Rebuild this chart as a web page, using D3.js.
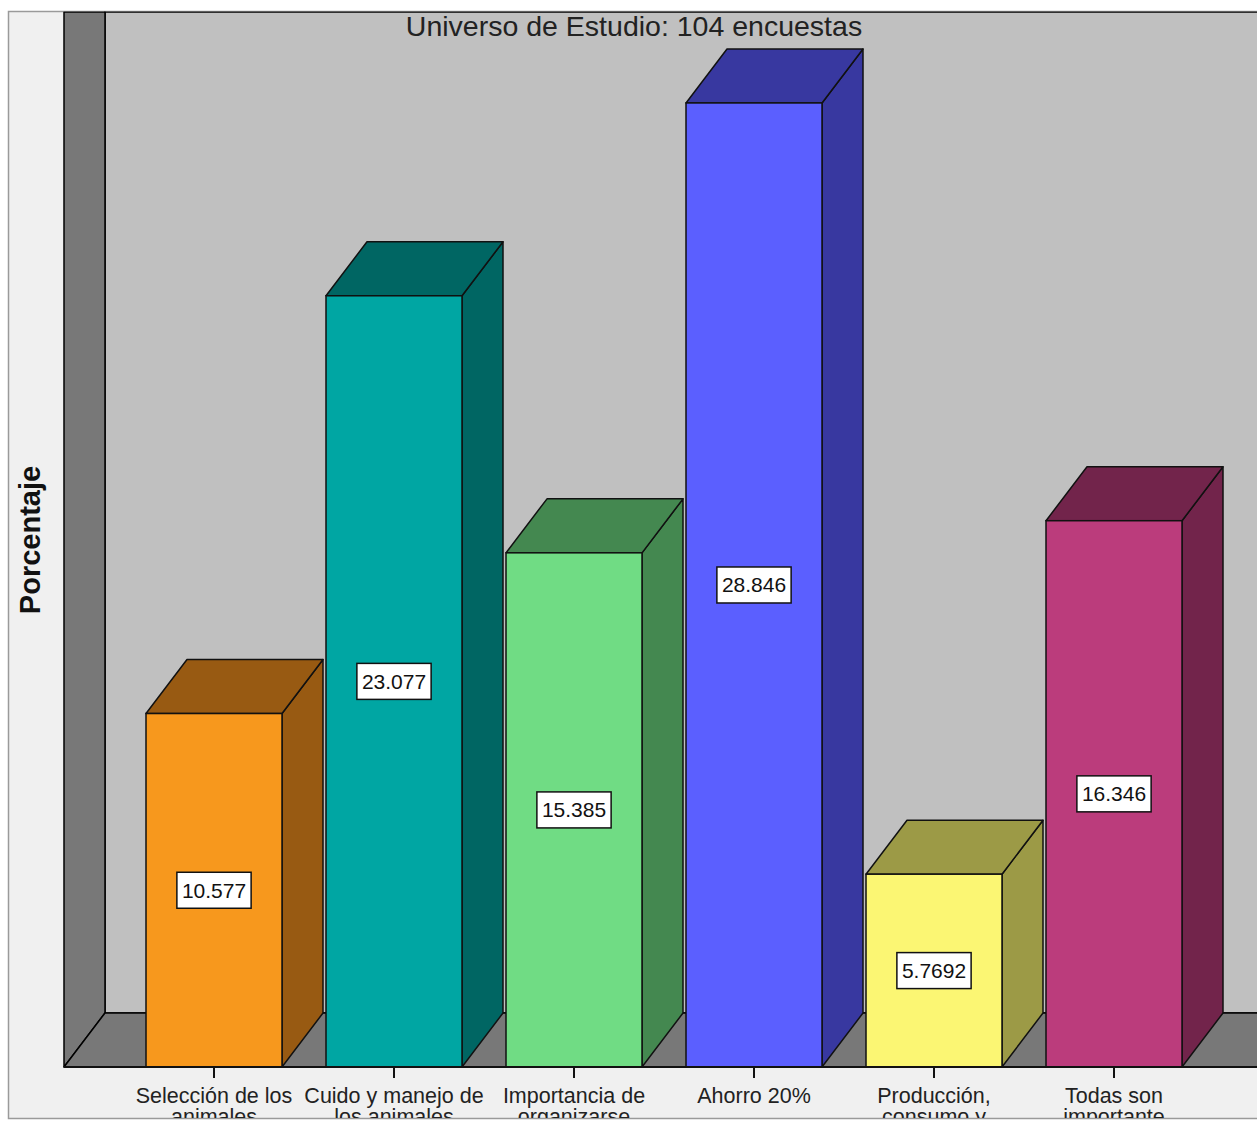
<!DOCTYPE html>
<html>
<head>
<meta charset="utf-8">
<script src="https://cdn.jsdelivr.net/npm/d3@7"></script>
<style>
  html, body { margin: 0; padding: 0; background: #ffffff; }
  svg { display: block; }
  text { font-family: "Liberation Sans", Arial, sans-serif; }
</style>
</head>
<body>
<svg id="chart" width="1257" height="1121"></svg>
<script>
// ---- data ----
const categories = [
  "Selección de los animales",
  "Cuido y manejo de los animales",
  "Importancia de organizarse",
  "Ahorro 20%",
  "Producción, consumo y comercialización",
  "Todas son importante"
];
const categoryLines = [
  ["Selección de los", "animales"],
  ["Cuido y manejo de", "los animales"],
  ["Importancia de", "organizarse"],
  ["Ahorro 20%"],
  ["Producción,", "consumo y", "comercialización"],
  ["Todas son", "importante"]
];
const values = [10.577, 23.077, 15.385, 28.846, 5.7692, 16.346];
const valueLabels = ["10.577", "23.077", "15.385", "28.846", "5.7692", "16.346"];
const frontColors = ["#F7981D", "#00A6A3", "#70DC84", "#5B5FFF", "#FBF673", "#BB3C7C"];
const darkColors  = ["#985A12", "#006663", "#448850", "#3838A0", "#9C9A46", "#72244B"];
const subtitle = "Universo de Estudio: 104 encuestas";
const yTitle = "Porcentaje";

// ---- layout ----
const W = 1257, H = 1121;
const svg = d3.select("#chart");
const frame = {x: 8.5, y: 11.5, w: 1300, h: 1107};
const base = 1067;       // front floor line
const dx = 41, dy = 54;  // 3D depth offset
const wallLeft = 64;

const x = d3.scaleBand()
  .domain(categories)
  .range([124, 1204])
  .paddingInner(44 / 180)
  .paddingOuter(22 / 180);

const y = d3.scaleLinear()
  .domain([0, 30])
  .range([base, base - 33.42 * 30]);

svg.append("defs").append("clipPath").attr("id", "frameClip")
  .append("rect").attr("x", frame.x).attr("y", frame.y).attr("width", frame.w).attr("height", frame.h - 0.5);

// outer frame
svg.append("rect")
  .attr("x", frame.x).attr("y", frame.y).attr("width", frame.w).attr("height", frame.h)
  .attr("fill", "#F0F0F0").attr("stroke", "#9a9a9a").attr("stroke-width", 1.5);

const g = svg.append("g").attr("clip-path", "url(#frameClip)");

// back wall
g.append("rect")
  .attr("x", wallLeft + dx).attr("y", 12)
  .attr("width", 1400).attr("height", base - dy - 12)
  .attr("fill", "#C0C0C0").attr("stroke", "#000").attr("stroke-width", 1.5);

// left wall
g.append("polygon")
  .attr("points", [[wallLeft, 12], [wallLeft + dx, 12], [wallLeft + dx, base - dy], [wallLeft, base]].map(p => p.join(",")).join(" "))
  .attr("fill", "#787878").attr("stroke", "#000").attr("stroke-width", 1.5).attr("stroke-linejoin", "round");

// floor
g.append("polygon")
  .attr("points", [[wallLeft, base], [wallLeft + dx, base - dy], [1400, base - dy], [1400, base]].map(p => p.join(",")).join(" "))
  .attr("fill", "#787878").attr("stroke", "#000").attr("stroke-width", 1.5).attr("stroke-linejoin", "round");

// subtitle
g.append("text")
  .attr("x", 634).attr("y", 36)
  .attr("text-anchor", "middle")
  .attr("font-size", 28.5)
  .attr("fill", "#222")
  .text(subtitle);

// bars
const bars = g.selectAll("g.bar")
  .data(categories.map((c, i) => ({c, v: values[i], label: valueLabels[i], front: frontColors[i], dark: darkColors[i]})))
  .join("g").attr("class", "bar");

bars.each(function(d) {
  const sel = d3.select(this);
  const x0 = x(d.c), x1 = x(d.c) + x.bandwidth();
  const yt = y(d.v), yb = y(0);
  // side face
  sel.append("polygon")
    .attr("points", [[x1, yb], [x1 + dx, yb - dy], [x1 + dx, yt - dy], [x1, yt]].map(p => p.join(",")).join(" "))
    .attr("fill", d.dark).attr("stroke", "#111").attr("stroke-width", 1.5).attr("stroke-linejoin", "round");
  // top face
  sel.append("polygon")
    .attr("points", [[x0, yt], [x0 + dx, yt - dy], [x1 + dx, yt - dy], [x1, yt]].map(p => p.join(",")).join(" "))
    .attr("fill", d.dark).attr("stroke", "#111").attr("stroke-width", 1.5).attr("stroke-linejoin", "round");
  // front face
  sel.append("rect")
    .attr("x", x0).attr("y", yt).attr("width", x1 - x0).attr("height", yb - yt)
    .attr("fill", d.front).attr("stroke", "#111").attr("stroke-width", 1.5);
  // value label
  const cx = (x0 + x1) / 2, cy = (yt + yb) / 2;
  const t = sel.append("text")
    .attr("x", cx).attr("y", cy + 7.5)
    .attr("text-anchor", "middle")
    .attr("font-size", 21)
    .attr("fill", "#111")
    .text(d.label);
  const bw = t.node().getComputedTextLength() + 10;
  sel.insert("rect", "text")
    .attr("x", cx - bw / 2).attr("y", cy - 18)
    .attr("width", bw).attr("height", 36)
    .attr("fill", "#fff").attr("stroke", "#111").attr("stroke-width", 1.5);
});

// x axis
const xAxis = d3.axisBottom(x).tickSize(11).tickSizeOuter(0).tickFormat("");
const ax = g.append("g").attr("transform", `translate(0,${base})`).call(xAxis);
ax.select(".domain").remove();
ax.selectAll(".tick line").attr("stroke", "#111").attr("stroke-width", 2);
g.append("line")
  .attr("x1", wallLeft).attr("x2", 1400).attr("y1", base).attr("y2", base)
  .attr("stroke", "#111").attr("stroke-width", 2);

// category labels
categories.forEach((c, i) => {
  const t = g.append("text")
    .attr("x", x(c) + x.bandwidth() / 2)
    .attr("y", 1103)
    .attr("text-anchor", "middle")
    .attr("font-size", 21.5)
    .attr("fill", "#222");
  categoryLines[i].forEach((line, j) => {
    t.append("tspan")
      .attr("x", x(c) + x.bandwidth() / 2)
      .attr("dy", j === 0 ? 0 : 21)
      .text(line);
  });
});

// y title
svg.append("text")
  .attr("transform", `translate(40, 540) rotate(-90)`)
  .attr("text-anchor", "middle")
  .attr("font-size", 29)
  .attr("font-weight", "bold")
  .attr("fill", "#111")
  .text(yTitle);
</script>
</body>
</html>
